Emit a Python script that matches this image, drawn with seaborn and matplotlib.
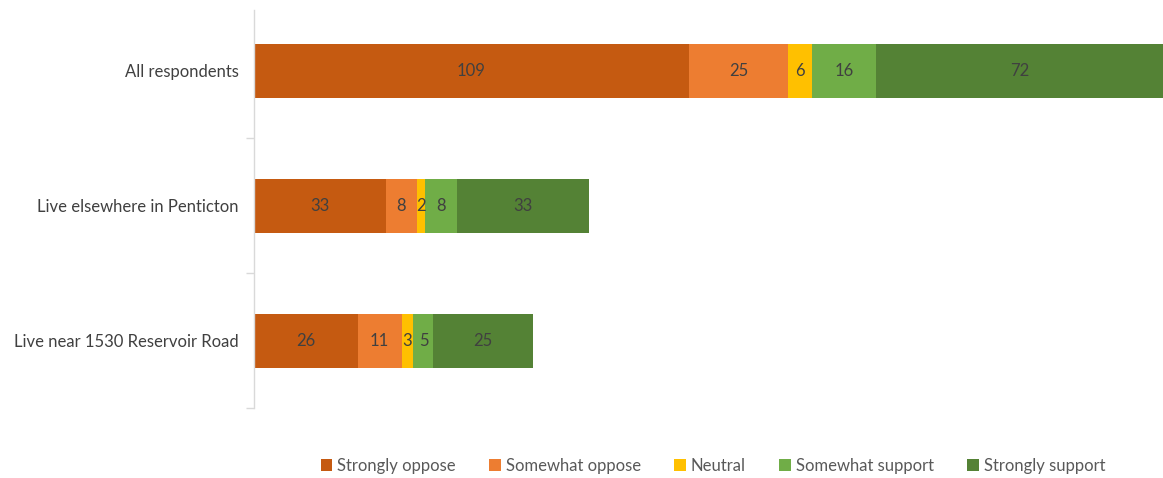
import numpy as np
import pandas as pd
import matplotlib.pyplot as plt
from matplotlib.patches import Patch
import seaborn as sns

# ----------------------------------------------------------
# Data
# ----------------------------------------------------------
groups = ["All respondents", "Live elsewhere in Penticton", "Live near 1530 Reservoir Road"]
responses = ["Strongly oppose", "Somewhat oppose", "Neutral", "Somewhat support", "Strongly support"]
strongly_oppose = [109, 33, 26]
somewhat_oppose = [25, 8, 11]
neutral = [6, 2, 3]
somewhat_support = [16, 8, 5]
strongly_support = [72, 33, 25]
colors = ["#C55A11", "#ED7D31", "#FFC000", "#70AD47", "#548235"]

df = pd.DataFrame(
    [strongly_oppose, somewhat_oppose, neutral, somewhat_support, strongly_support],
    index=responses, columns=groups,
).T
cum = df.cumsum(axis=1)

# ----------------------------------------------------------
# Plot
# ----------------------------------------------------------
sns.set_style("white")
plt.rcParams["font.family"] = ["Lato", "DejaVu Sans"]

fig = plt.figure(figsize=(11.63, 4.78), dpi=100)
ax = fig.add_axes([254 / 1163, 1 - 408 / 478, 1 - 254 / 1163, 405 / 478])

# stacked bars: draw cumulative totals from the right-most segment back
for resp, col in reversed(list(zip(responses, colors))):
    sns.barplot(x=cum[resp].values, y=groups, orient="h", color=col,
                width=0.4, saturation=1, linewidth=0, ax=ax)

# segment labels
for i, g in enumerate(groups):
    for resp in responses:
        v = df.loc[g, resp]
        center = cum.loc[g, resp] - v / 2
        ax.text(center, i, str(v), ha="center", va="center",
                fontsize=12, color="#404040")

ax.set_xlim(0, cum.iloc[0, -1])
ax.set_ylim(2.5, -0.5)
ax.set_xticks([])
ax.set_xlabel("")
ax.set_ylabel("")
ax.tick_params(axis="y", which="major", left=False, length=0, pad=11,
               labelsize=12, labelcolor="#404040")
ax.set_yticks([0.5, 1.5, 2.5], minor=True)
ax.tick_params(axis="y", which="minor", left=True, length=6, color="#D9D9D9", width=1)
for s in ["top", "right", "bottom"]:
    ax.spines[s].set_visible(False)
ax.spines["left"].set_color("#D9D9D9")
ax.spines["left"].set_linewidth(1)
ax.spines["left"].set_bounds(-0.45, 2.5)

handles = [Patch(facecolor=c, edgecolor="none") for c in colors]
fig.legend(handles, responses, loc="center", bbox_to_anchor=(713 / 1163, 1 - 466 / 478),
           ncol=5, frameon=False, fontsize=12, labelcolor="#595959",
           handlelength=0.7, handleheight=0.7, handletextpad=0.3, columnspacing=2.0)

fig.savefig("out.png", dpi=100)
